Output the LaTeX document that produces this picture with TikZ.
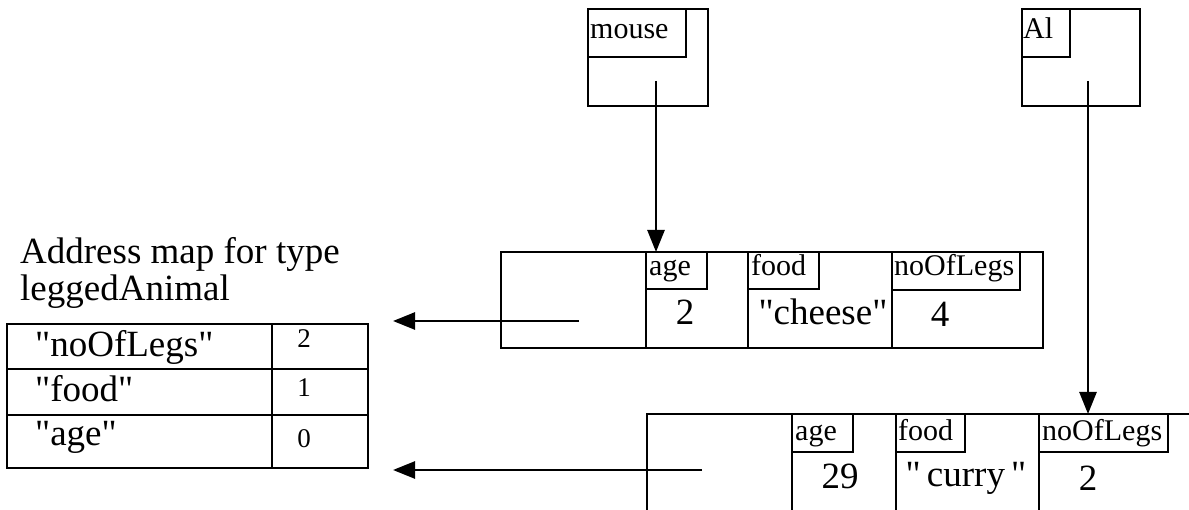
\documentclass[tikz,border=0pt]{standalone}
\usepackage{fontspec}
\setmainfont{Liberation Serif}[Ligatures=TeXOff]
\usetikzlibrary{positioning, arrows.meta}

\newcommand{\bigtxt}{\fontsize{37}{40}\selectfont}
\newcommand{\lbltxt}{\fontsize{30}{34}\selectfont}
\newcommand{\smalltxt}{\fontsize{27}{30}\selectfont}

\tikzset{
  box/.style={line width=2pt},
  ptr/.style={line width=2.6pt, -{Triangle[length=22pt, width=17pt]}},
  txt/.style={inner sep=0pt, anchor=base west},
  val/.style={inner sep=0pt, anchor=base}
}

\begin{document}
\begin{tikzpicture}[x=1pt, y=-1pt]
    \useasboundingbox (0,0) rectangle (1189,510);
    \clip (0,0) rectangle (1189,510);

    % Draw variable boxes
    \draw[box] (588,9) rectangle (708,106);
    \draw[box] (588,9) rectangle (686,57);
    \node[txt] (mouse) at (590,39) {\lbltxt mouse};
    \draw[box] (1022,9) rectangle (1140,106);
    \draw[box] (1022,9) rectangle (1070,57);
    \node[txt] (al) at (1023,39) {\lbltxt Al};

    % Draw record for mouse
    \draw[box] (501,252) rectangle (1043,348);
    \foreach \x in {646,748,892} \draw[box] (\x,252) -- (\x,348);
    \draw[box] (646,252) rectangle (707,289);
    \draw[box] (748,252) rectangle (819,289);
    \draw[box] (892,252) rectangle (1020,290);
    \node[txt] (ageM) at (649,276) {\lbltxt age};
    \node[txt] (foodM) at (751,276) {\lbltxt food};
    \node[txt] (legsM) at (894,276) {\lbltxt noOfLegs};
    \node[val] (ageMv) at (685,325) {\bigtxt 2};
    \node[val] (foodMv) at (823,325) {\bigtxt "cheese"};
    \node[val] (legsMv) at (940,327) {\bigtxt 4};

    % Draw record for Al
    \draw[box] (647,414) rectangle (1200,520);
    \foreach \x in {792,896,1039} \draw[box] (\x,414) -- (\x,520);
    \draw[box] (792,414) rectangle (853,452);
    \draw[box] (896,414) rectangle (965,452);
    \draw[box] (1039,414) rectangle (1168,452);
    \node[txt] (ageA) at (795,440) {\lbltxt age};
    \node[txt] (foodA) at (898,440) {\lbltxt food};
    \node[txt] (legsA) at (1042,440) {\lbltxt noOfLegs};
    \node[val] (ageAv) at (840,488) {\bigtxt 29};
    \node[val] (foodAv) at (966,486) {\bigtxt "\,curry\,"};
    \node[val] (legsAv) at (1088,490) {\bigtxt 2};

    % Draw address map
    \node[txt] (title1) at (20,264) {\bigtxt Address map for type};
    \node[txt] (title2) at (20,301) {\bigtxt leggedAnimal};
    \draw[box] (7,324) rectangle (368,468);
    \draw[box] (7,369) -- (368,369);
    \draw[box] (7,415) -- (368,415);
    \draw[line width=2.6pt] (272,324) -- (272,468);
    \node[txt] (mapLegs) at (35,357) {\bigtxt "noOfLegs"};
    \node[txt] (mapFood) at (35,402) {\bigtxt "food"};
    \node[txt] (mapAge) at (35,446) {\bigtxt "age"};
    \node[val] (mapLegsv) at (304,348) {\smalltxt 2};
    \node[val] (mapFoodv) at (304,397) {\smalltxt 1};
    \node[val] (mapAgev) at (304,447) {\smalltxt 0};

    % Draw pointers
    \coordinate (ptrMouse) at (656,81);
    \coordinate (recMouse) at (656,252);
    \coordinate (ptrAl) at (1088,81);
    \coordinate (recAl) at (1088,414);
    \coordinate (typeMouse) at (579,321);
    \coordinate (typeAl) at (702,470);
    \coordinate (mapTop) at (393,321);
    \coordinate (mapBot) at (393,470);
    \draw[ptr] (ptrMouse) -- (recMouse);
    \draw[ptr] (ptrAl) -- (recAl);
    \draw[ptr] (typeMouse) -- (mapTop);
    \draw[ptr] (typeAl) -- (mapBot);
\end{tikzpicture}
\end{document}
